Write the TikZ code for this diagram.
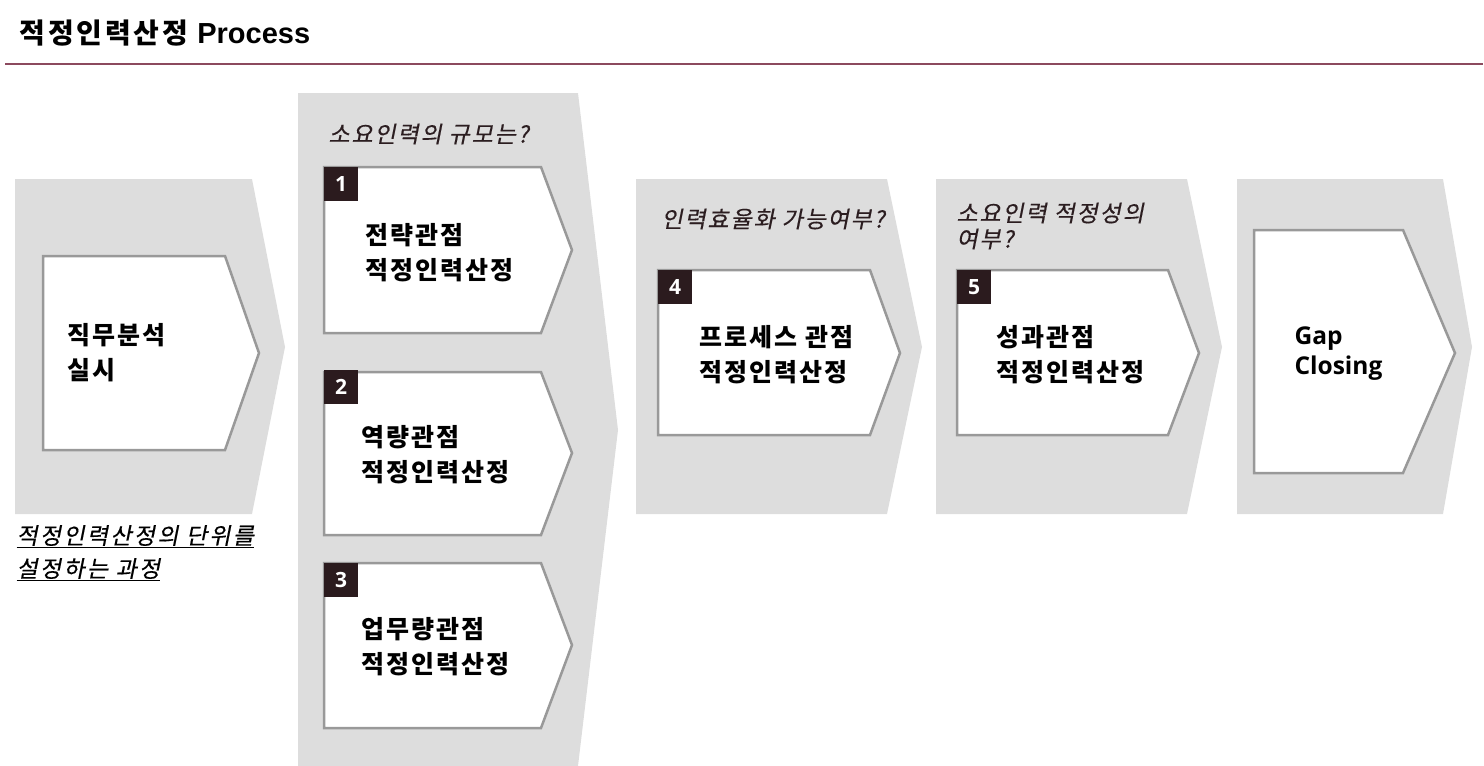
\documentclass[tikz,border=0pt]{standalone}
\usepackage{fontspec}
\setmainfont{Noto Sans CJK KR}[LetterSpace=8]
\newfontfamily\qfont[FakeSlant=0.2,FakeBold=0.4,LetterSpace=8]{Noto Sans CJK KR}
\newfontfamily\enfont{Open Sans}
\newfontfamily\ttlfont{Liberation Sans}
\definecolor{shade}{HTML}{DDDDDD}
\definecolor{rim}{HTML}{999999}
\definecolor{badgec}{HTML}{2B1B1E}
\definecolor{qcol}{HTML}{2B1D20}
\definecolor{rulec}{RGB}{140,74,94}
\begin{document}
\begin{tikzpicture}[x=1pt,y=-1pt,
  back/.style={fill=shade,draw=none},
  box/.style={fill=white,draw=rim,line width=2.5pt},
  badge/.style={fill=badgec,text=white,font=\enfont\bfseries\fontsize{21}{21}\selectfont,minimum size=34pt,inner sep=0pt,anchor=north west},
  lbl/.style={anchor=west,align=left,font=\bfseries\fontsize{25}{35}\selectfont},
  ques/.style={anchor=west,align=left,text=qcol,font=\qfont\fontsize{23}{26}\selectfont}]
\useasboundingbox (0,0) rectangle (1484,766);
% title
\node[anchor=west,font=\bfseries\fontsize{28}{30}\selectfont\addfontfeature{LetterSpace=10}] (title) at (16,33) {적정인력산정 {\ttlfont\bfseries\fontsize{29}{30}\selectfont Process}};
\coordinate (r1) at (5,64);
\coordinate (r2) at (1483,64);
\draw[rulec,line width=2.5pt] (r1) -- (r2);
% gray backgrounds
\fill[back] (15,179) -- (252,179) -- (285,347) -- (252,514) -- (15,514) -- cycle;
\fill[back] (298,93) -- (578,93) -- (618,430) -- (578,766) -- (298,766) -- cycle;
\fill[back] (636,179) -- (887,179) -- (922,347) -- (887,514) -- (636,514) -- cycle;
\fill[back] (936,179) -- (1187,179) -- (1222,347) -- (1187,514) -- (936,514) -- cycle;
\fill[back] (1237,179) -- (1443,179) -- (1472,347) -- (1443,514) -- (1237,514) -- cycle;
% white steps
\draw[box] (43,256) -- (225,256) -- (259,353) -- (225,450) -- (43,450) -- cycle;
\draw[box] (324,167) -- (541,167) -- (572,250) -- (541,333) -- (324,333) -- cycle;
\draw[box] (324,372) -- (541,372) -- (572,453) -- (541,535) -- (324,535) -- cycle;
\draw[box] (324,563) -- (541,563) -- (572,645) -- (541,728) -- (324,728) -- cycle;
\draw[box] (658,270) -- (870,270) -- (900,353) -- (870,435) -- (658,435) -- cycle;
\draw[box] (957,270) -- (1168,270) -- (1199,353) -- (1168,435) -- (957,435) -- cycle;
\draw[box] (1254,230) -- (1403,230) -- (1455,353) -- (1403,473) -- (1254,473) -- cycle;
% badges
\node[badge] (n1) at (324,167) {1};
\node[badge] (n2) at (324,370) {2};
\node[badge] (n3) at (324,563) {3};
\node[badge] (n4) at (658,270) {4};
\node[badge] (n5) at (957,270) {5};
% step texts
\node[lbl] (s0) at (64,353) {직무분석\\실시};
\node[lbl] (s1) at (362,253) {전략관점\\적정인력산정};
\node[lbl] (s2) at (358,455) {역량관점\\적정인력산정};
\node[lbl] (s3) at (358,647) {업무량관점\\적정인력산정};
\node[lbl] (s4) at (696,355) {프로세스 관점\\적정인력산정};
\node[lbl] (s5) at (993,355) {성과관점\\적정인력산정};
\node[lbl,font=\enfont\bfseries\fontsize{24.5}{30}\selectfont] (s6) at (1291,354) {Gap\\Closing};
% questions
\node[ques] (q1) at (325,134) {소요인력의 규모는?};
\node[ques] (q2) at (658,219) {인력효율화 가능여부?};
\node[ques] (q3) at (953,226) {소요인력 적정성의\\여부?};
\node[ques,text=black,font=\qfont\fontsize{23}{33}\selectfont\addfontfeature{LetterSpace=10}] (q0) at (13,553) {\underline{적정인력산정의 단위를}\\\underline{설정하는 과정}};
\end{tikzpicture}
\end{document}
